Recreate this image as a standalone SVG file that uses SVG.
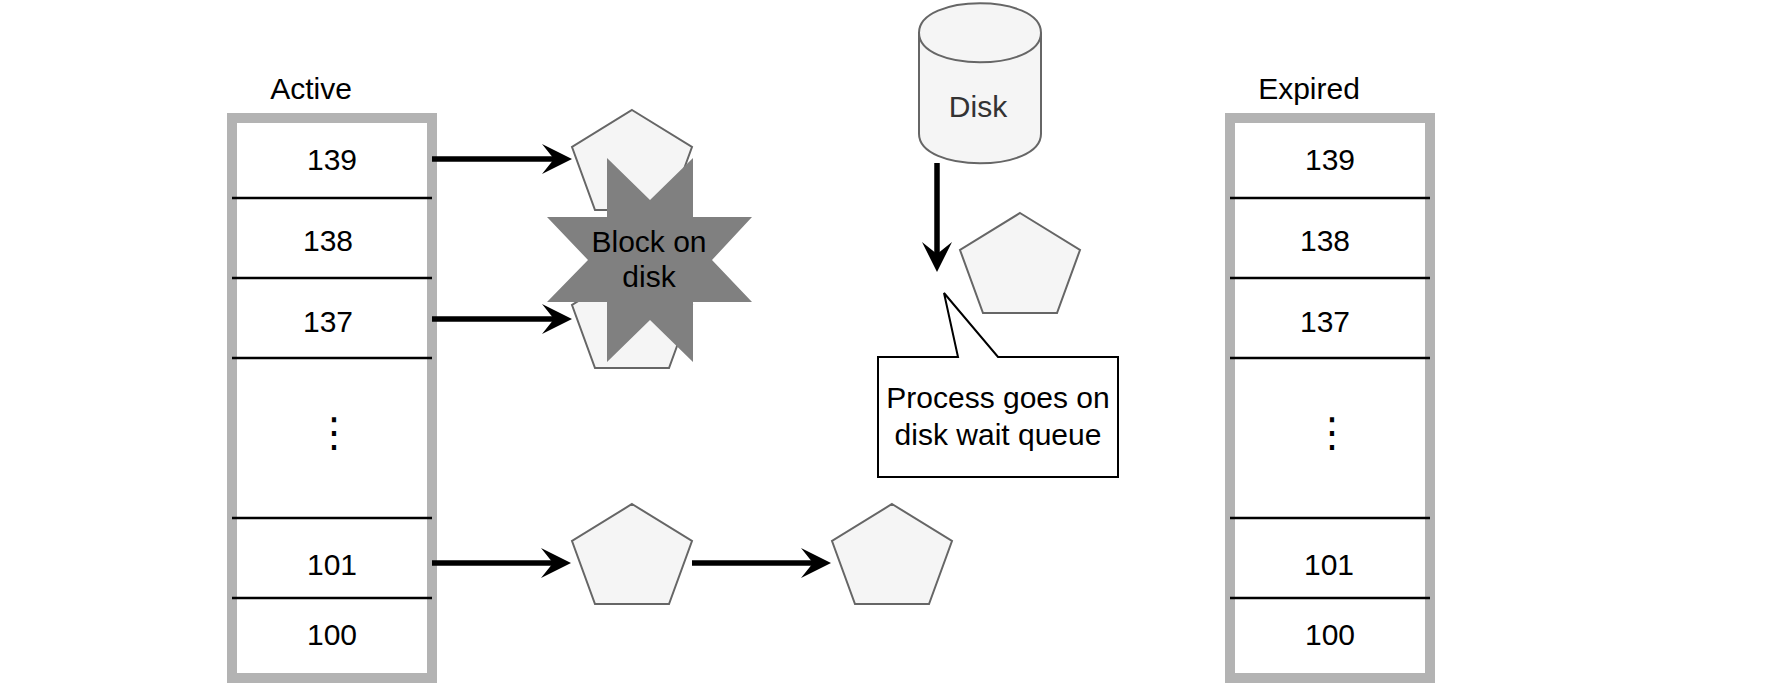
<svg xmlns="http://www.w3.org/2000/svg" width="1777" height="689" viewBox="0 0 1777 689">
<defs>
<style>
.t{font-family:"Liberation Sans",Arial,sans-serif;font-size:30px;fill:#000;text-anchor:middle}
.frame{fill:#fff;stroke:#B3B3B3;stroke-width:10}
.sep{stroke:#000;stroke-width:2.5;fill:none}
.pent{fill:#F5F5F5;stroke:#666;stroke-width:2}
.conn{stroke:#000;stroke-width:5.5;fill:none;marker-end:url(#ah)}
.dots{font-family:"DejaVu Sans",sans-serif;font-size:40px;fill:#000;text-anchor:middle}
</style>
<marker id="ah" markerUnits="userSpaceOnUse" markerWidth="30" markerHeight="30" refX="12" refY="15" orient="auto" viewBox="0 0 30 30">
<path d="M0,0 L30,15 L0,30 L12,15 Z" fill="#000"/>
</marker>
</defs>
<rect width="1777" height="689" fill="#fff"/>

<g id="active">
<text class="t" x="311" y="99">Active</text>
<rect class="frame" x="232" y="118" width="200" height="560"/>
<line class="sep" x1="232" y1="198" x2="432" y2="198"/>
<line class="sep" x1="232" y1="278" x2="432" y2="278"/>
<line class="sep" x1="232" y1="358" x2="432" y2="358"/>
<line class="sep" x1="232" y1="518" x2="432" y2="518"/>
<line class="sep" x1="232" y1="598" x2="432" y2="598"/>
<text class="t" x="332" y="170">139</text>
<text class="t" x="328" y="251">138</text>
<text class="t" x="328" y="332">137</text>
<text class="dots" x="334" y="446">⋮</text>
<text class="t" x="332" y="575">101</text>
<text class="t" x="332" y="645">100</text>
</g>

<g id="expired">
<text class="t" x="1309" y="99">Expired</text>
<rect class="frame" x="1230" y="118" width="200" height="560"/>
<line class="sep" x1="1230" y1="198" x2="1430" y2="198"/>
<line class="sep" x1="1230" y1="278" x2="1430" y2="278"/>
<line class="sep" x1="1230" y1="358" x2="1430" y2="358"/>
<line class="sep" x1="1230" y1="518" x2="1430" y2="518"/>
<line class="sep" x1="1230" y1="598" x2="1430" y2="598"/>
<text class="t" x="1330" y="170">139</text>
<text class="t" x="1325" y="251">138</text>
<text class="t" x="1325" y="332">137</text>
<text class="dots" x="1332" y="446">⋮</text>
<text class="t" x="1329" y="575">101</text>
<text class="t" x="1330" y="645">100</text>
</g>

<g id="proc139">
<polygon class="pent" points="632,110 692,147 669,210 595,210 572,147"/>
</g>
<g id="proc137">
<polygon class="pent" points="632,268 692,305 669,368 595,368 572,305"/>
</g>
<g id="block">
<path d="M607,158 L650,200 L693,158 L693,217 L752,217 L712,260 L752,302 L693,302 L693,362 L650,320 L607,362 L607,302 L547,302 L588,260 L547,217 L607,217 Z" fill="#808080"/>
<text class="t" x="649" y="252">Block on</text>
<text class="t" x="649" y="287">disk</text>
</g>
<g id="proc101a">
<polygon class="pent" points="632,504 692,541 669,604 595,604 572,541"/>
</g>
<g id="proc101b">
<polygon class="pent" points="892,504 952,541 929,604 855,604 832,541"/>
</g>

<g id="disk">
<path d="M919,32.8 C919,-6.5 1041,-6.5 1041,32.8 L1041,133.8 C1041,173.1 919,173.1 919,133.8 Z" fill="#F5F5F5" stroke="#666" stroke-width="2"/>
<path d="M919,32.8 C919,72.1 1041,72.1 1041,32.8" fill="none" stroke="#666" stroke-width="2"/>
<text class="t" x="978" y="117" style="fill:#333">Disk</text>
</g>
<g id="procdisk">
<polygon class="pent" points="1020,213 1080,250 1057,313 983,313 960,250"/>
</g>

<g id="callout">
<path d="M878,357 L958,357 L944,293 L998,357 L1118,357 L1118,477 L878,477 Z" fill="#fff" stroke="#000" stroke-width="2"/>
<text class="t" x="998" y="408">Process goes on</text>
<text class="t" x="998" y="445">disk wait queue</text>
</g>

<g id="connectors">
<line class="conn" x1="432" y1="159" x2="554" y2="159"/>
<line class="conn" x1="432" y1="319" x2="554" y2="319"/>
<line class="conn" x1="432" y1="563" x2="553" y2="563"/>
<line class="conn" x1="692" y1="563" x2="813" y2="563"/>
<line class="conn" x1="937" y1="163" x2="937" y2="254"/>
</g>
</svg>
